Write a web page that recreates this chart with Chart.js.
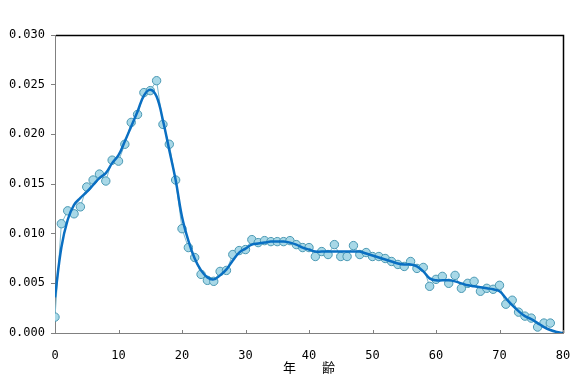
<!DOCTYPE html>
<html>
<head>
<meta charset="utf-8">
<script src="https://cdn.jsdelivr.net/npm/chart.js@4/dist/chart.umd.min.js"></script>
<style>
  html, body { margin: 0; padding: 0; background: #fff; }
  #c { display: block; }
</style>
</head>
<body>
<canvas id="c" width="578" height="380"></canvas>
<script>
// observed rate by age 0..78
const ages = [];
for (let a = 0; a <= 78; a++) ages.push(a);
const observed = [
  0.0016, 0.0110, 0.0123, 0.0120, 0.0127, 0.0147, 0.0154, 0.0160, 0.0153, 0.0174,
  0.0173, 0.0190, 0.0212, 0.0220, 0.0242, 0.0244, 0.0254, 0.0210, 0.0190, 0.0154,
  0.0105, 0.0086, 0.0076, 0.0059, 0.0053, 0.0052, 0.0062, 0.0063, 0.0079, 0.0083,
  0.0084, 0.0094, 0.0091, 0.0093, 0.0092, 0.0092, 0.0092, 0.0093, 0.0089, 0.0086,
  0.0086, 0.0077, 0.0082, 0.0079, 0.0089, 0.0077, 0.0077, 0.0088, 0.0079, 0.0081,
  0.0077, 0.0077, 0.0075, 0.0072, 0.0069, 0.0067, 0.0072, 0.0065, 0.0066, 0.0047,
  0.0054, 0.0057, 0.0050, 0.0058, 0.0045, 0.0050, 0.0052, 0.0042, 0.0045, 0.0044,
  0.0048, 0.0029, 0.0033, 0.0021, 0.0017, 0.0015, 0.0006, 0.0010, 0.0010
];

// smoothed curve, ages 0..80
const fitAges = [];
for (let a = 0; a <= 80; a++) fitAges.push(a);
const fitted = [
  0.0036, 0.0086, 0.0114, 0.0129, 0.0136, 0.0142, 0.0149, 0.0156, 0.0161, 0.0171,
  0.0179, 0.0193, 0.0208, 0.0223, 0.0239, 0.0245, 0.0238, 0.0214, 0.0184, 0.0154,
  0.0117, 0.0093, 0.0075, 0.0063, 0.0056, 0.0054, 0.0058, 0.0064, 0.0073, 0.0081,
  0.0085, 0.0089, 0.0090, 0.0091, 0.0092, 0.0092, 0.0092, 0.0091, 0.0089, 0.0086,
  0.0084, 0.0082, 0.0082, 0.0082, 0.0082, 0.0082, 0.0082, 0.0082, 0.0082, 0.0080,
  0.0078, 0.0076, 0.0074, 0.0072, 0.0070, 0.0069, 0.0069, 0.0067, 0.0062, 0.0055,
  0.0053, 0.0053, 0.0053, 0.0052, 0.0050, 0.0048, 0.0047, 0.0046, 0.0045, 0.0044,
  0.0042, 0.0035, 0.0028, 0.0022, 0.0017, 0.0014, 0.0010, 0.0006, 0.0003, 0.0001,
  0.0000
];

const xTicks = [0, 10, 20, 30, 40, 50, 60, 70, 80];
const yTicks = [0, 0.005, 0.010, 0.015, 0.020, 0.025, 0.030];
const xTitle = '年　　齢';

const frame = {
  id: 'frame',
  afterDatasetsDraw(chart) {
    const { ctx, chartArea: a, scales } = chart;
    ctx.save();
    ctx.strokeStyle = '#000';
    ctx.lineWidth = 1.5;
    ctx.beginPath();
    ctx.moveTo(a.left + 1, a.top + 0.5);
    ctx.lineTo(a.right + 0.5, a.top + 0.5);
    ctx.lineTo(a.right + 0.5, a.bottom);
    ctx.stroke();
    // inward ticks on x axis
    ctx.strokeStyle = '#808080';
    ctx.lineWidth = 1;
    ctx.beginPath();
    xTicks.forEach(v => {
      const px = Math.round(scales.x.getPixelForValue(v)) + 0.5;
      ctx.moveTo(px, a.bottom);
      ctx.lineTo(px, a.bottom - 3);
    });
    ctx.stroke();
    ctx.restore();
  }
};

new Chart(document.getElementById('c'), {
  type: 'scatter',
  data: {
    datasets: [
      {
        type: 'line',
        data: fitAges.map((a, i) => ({ x: a, y: fitted[i] })),
        borderColor: '#0A6FC2',
        borderWidth: 2.5,
        pointRadius: 0,
        tension: 0.4,
        fill: false
      },
      {
        type: 'line',
        data: ages.map((a, i) => ({ x: a, y: observed[i] })),
        borderColor: '#7DB9CE',
        borderWidth: 1,
        backgroundColor: '#A8D8E7',
        pointBackgroundColor: '#A8D8E7',
        pointBorderColor: '#4A98B3',
        pointBorderWidth: 1,
        pointRadius: 4.2,
        tension: 0,
        fill: false
      }
    ]
  },
  options: {
    responsive: false,
    animation: false,
    layout: { padding: { top: 35, right: 15, left: 0, bottom: 5 } },
    plugins: { legend: { display: false }, tooltip: { enabled: false } },
    scales: {
      x: {
        type: 'linear',
        min: 0,
        max: 80,
        afterBuildTicks: s => { s.ticks = xTicks.map(v => ({ value: v })); },
        afterFit: s => { s.height = 42; s.paddingLeft = 0; s.paddingRight = 0; },
        grid: { display: true, drawOnChartArea: false, drawTicks: false },
        border: { color: '#808080', width: 1 },
        ticks: {
          padding: 16,
          color: '#000',
          font: { family: 'DejaVu Sans Mono', size: 12 },
          maxRotation: 0
        },
        title: {
          display: true,
          text: xTitle,
          color: '#000',
          font: { family: 'Noto Sans CJK JP', size: 13 },
          padding: { top: 0, bottom: 0 }
        }
      },
      y: {
        min: 0,
        max: 0.03,
        afterBuildTicks: s => { s.ticks = yTicks.map(v => ({ value: v })); },
        afterFit: s => { s.width = 55; s.paddingTop = 0; s.paddingBottom = 0; },
        grid: { drawOnChartArea: false, drawTicks: true, tickLength: 4, color: '#808080' },
        border: { color: '#808080', width: 1 },
        ticks: {
          padding: 6,
          color: '#000',
          font: { family: 'DejaVu Sans Mono', size: 12 },
          callback: v => v.toFixed(3)
        }
      }
    }
  },
  plugins: [frame]
});
</script>
</body>
</html>
